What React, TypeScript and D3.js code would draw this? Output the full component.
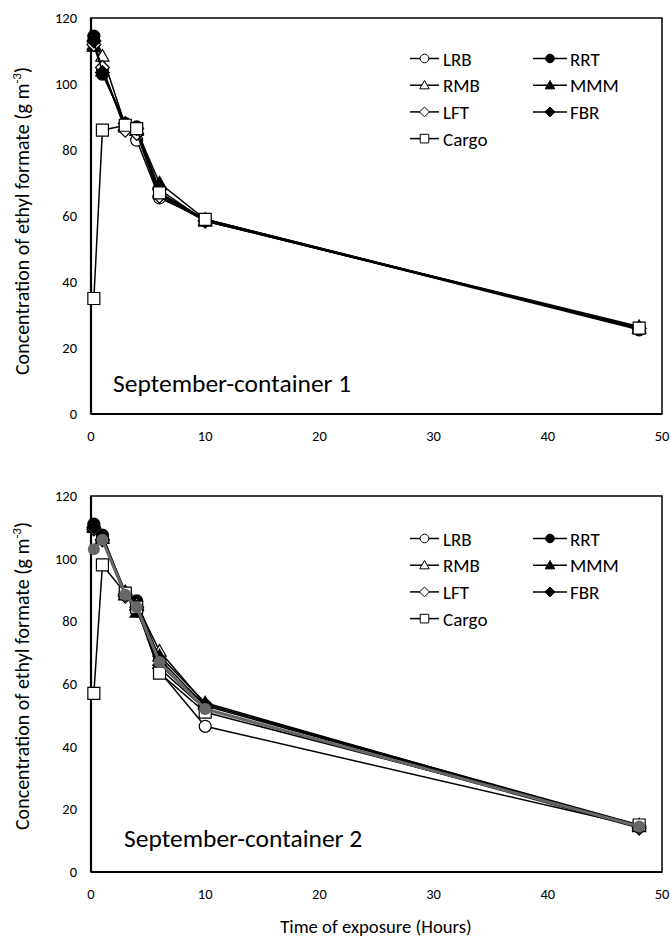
import { useEffect, useRef } from 'react'
import * as d3 from 'd3'

const hours = [0.25, 1, 3, 4, 6, 10, 48]

const seriesNames = ['LRB', 'RRT', 'RMB', 'MMM', 'LFT', 'FBR', 'Cargo']

// container 1
const c1LRB = [113, 104.5, 87, 83, 65.5, 59, 26]
const c1RRT = [114.5, 103, 88, 87, 66.5, 58.8, 25.5]
const c1RMB = [112, 108.5, 87.5, 86, 67, 58.5, 26.5]
const c1MMM = [111.5, 104, 87, 86, 70, 59, 26]
const c1LFT = [112, 105, 86, 85, 66, 58.5, 26]
const c1FBR = [113, 103.5, 88, 86.5, 68, 58.5, 26]
const c1Cargo = [35, 86, 87.5, 86.5, 67, 59, 26]

// container 2
const c2LRB = [110, 106.5, 88.5, 85, 64, 46.5, 14.5]
const c2RRT = [111, 107.5, 89, 86.5, 68, 53, 14.5]
const c2RMB = [110.5, 107, 89.5, 85.5, 70.5, 53.5, 15]
const c2MMM = [110, 106.5, 88.5, 83, 69, 54, 14.5]
const c2LFT = [109.5, 106, 88, 84.5, 65, 52, 14]
const c2FBR = [110, 106, 88.5, 83.5, 66, 53.5, 14.5]
const c2Cargo = [57, 98, 89, 84.5, 63.5, 51, 15]
// grey line drawn in panel 2, not in the legend
const c2Grey = [103, 106, 88.5, 84.5, 67, 52, 14.5]

const yTicks = [0, 20, 40, 60, 80, 100, 120]
const xTicks = [0, 10, 20, 30, 40, 50]

const shapes = ['circle', 'circle', 'triangle', 'triangle', 'diamond', 'diamond', 'square']
const filled = [false, true, false, true, false, true, false]

const FONT = 'Carlito, Lato, sans-serif'

const markerPath = (shape, s) => {
  if (shape === 'circle') {
    return `M${-s},0A${s},${s} 0 1,0 ${s},0A${s},${s} 0 1,0 ${-s},0Z`
  }
  if (shape === 'square') return `M${-s},${-s}H${s}V${s}H${-s}Z`
  if (shape === 'diamond') return `M0,${-s * 1.15}L${s * 1.15},0L0,${s * 1.15}L${-s * 1.15},0Z`
  return `M0,${-s * 1.1}L${s * 1.1},${s * 0.85}L${-s * 1.1},${s * 0.85}Z`
}

const drawPanel = (svg, opts) => {
  const { top, bottom, data, label, labelX, labelY, titleY, legendTop, legendX, extra } = opts
  const x = d3.scaleLinear().domain([0, 50]).range([91, 662])
  const y = d3.scaleLinear().domain([0, 120]).range([bottom, top])
  const g = svg.append('g')

  // frame
  g.append('rect')
    .attr('x', x(0))
    .attr('y', y(120))
    .attr('width', x(50) - x(0))
    .attr('height', y(0) - y(120))
    .attr('fill', 'none')
    .attr('stroke', '#000')
    .attr('stroke-width', 1.5)
  g.append('line')
    .attr('x1', x(0)).attr('x2', x(0))
    .attr('y1', y(120)).attr('y2', y(0))
    .attr('stroke', '#000').attr('stroke-width', 2.2)
  g.append('line')
    .attr('x1', x(0)).attr('x2', x(50))
    .attr('y1', y(0)).attr('y2', y(0))
    .attr('stroke', '#000').attr('stroke-width', 2.2)

  g.selectAll('.yt')
    .data(yTicks)
    .enter()
    .append('text')
    .attr('x', 77)
    .attr('y', (d) => y(d) + 5)
    .attr('text-anchor', 'end')
    .attr('font-family', FONT)
    .attr('font-size', 14.5)
    .text((d) => d)

  g.selectAll('.xt')
    .data(xTicks)
    .enter()
    .append('text')
    .attr('x', (d) => x(d))
    .attr('y', y(0) + 27)
    .attr('text-anchor', 'middle')
    .attr('font-family', FONT)
    .attr('font-size', 14.5)
    .text((d) => d)

  const yt = g.append('text')
    .attr('transform', `translate(29,${titleY}) rotate(-90)`)
    .attr('text-anchor', 'middle')
    .attr('font-family', FONT)
    .attr('font-size', 20)
  yt.append('tspan').text('Concentration of ethyl formate (g m')
  yt.append('tspan').attr('font-size', 13).attr('dy', -8).text('-3')
  yt.append('tspan').attr('dy', 8).text(')')

  g.append('text')
    .attr('x', labelX)
    .attr('y', labelY)
    .attr('font-family', FONT)
    .attr('font-size', 25.5)
    .text(label)

  const line = d3.line().x((d, i) => x(hours[i])).y((d) => y(d))

  data.forEach((vals, k) => {
    g.append('path')
      .attr('d', line(vals))
      .attr('fill', 'none')
      .attr('stroke', '#000')
      .attr('stroke-width', 1.5)
    g.selectAll(null)
      .data(vals)
      .enter()
      .append('path')
      .attr('transform', (d, i) => `translate(${x(hours[i])},${y(d)})`)
      .attr('d', markerPath(shapes[k], 6))
      .attr('fill', filled[k] ? '#000' : '#fff')
      .attr('stroke', '#000')
      .attr('stroke-width', 1.2)
  })

  if (extra) {
    g.append('path')
      .attr('d', line(extra))
      .attr('fill', 'none')
      .attr('stroke', '#666')
      .attr('stroke-width', 3)
    g.selectAll(null)
      .data(extra)
      .enter()
      .append('circle')
      .attr('cx', (d, i) => x(hours[i]))
      .attr('cy', (d) => y(d))
      .attr('r', 6)
      .attr('fill', '#666')
  }

  // legend
  seriesNames.forEach((name, k) => {
    const col = k % 2
    const row = Math.floor(k / 2)
    const lx = legendX[col]
    const ly = legendTop + row * 26.7
    const lg = g.append('g').attr('transform', `translate(${lx},${ly})`)
    lg.append('line')
      .attr('x1', 0).attr('x2', col ? 34 : 29)
      .attr('y1', 0).attr('y2', 0)
      .attr('stroke', '#000').attr('stroke-width', 1.5)
    lg.append('path')
      .attr('transform', `translate(${col ? 17 : 14.5},0)`)
      .attr('d', markerPath(shapes[k], 4.3))
      .attr('fill', filled[k] ? '#000' : '#fff')
      .attr('stroke', '#000')
      .attr('stroke-width', 1)
    lg.append('text')
      .attr('x', col ? 37 : 33)
      .attr('y', 7)
      .attr('font-family', FONT)
      .attr('font-size', 19)
      .text(name)
  })
}

const App = () => {
  const ref = useRef(null)

  useEffect(() => {
    const svg = d3.select(ref.current)
    svg.selectAll('*').remove()

    drawPanel(svg, {
      top: 18,
      bottom: 414,
      data: [c1LRB, c1RRT, c1RMB, c1MMM, c1LFT, c1FBR, c1Cargo],
      label: 'September-container 1',
      labelX: 113,
      labelY: 392,
      titleY: 221,
      legendTop: 58.5,
      legendX: [410, 533],
    })
    drawPanel(svg, {
      top: 496,
      bottom: 872,
      data: [c2LRB, c2RRT, c2RMB, c2MMM, c2LFT, c2FBR, c2Cargo],
      extra: c2Grey,
      label: 'September-container 2',
      labelX: 124,
      labelY: 847,
      titleY: 676,
      legendTop: 538.5,
      legendX: [410, 533],
    })

    svg.append('text')
      .attr('x', 376)
      .attr('y', 933)
      .attr('text-anchor', 'middle')
      .attr('font-family', FONT)
      .attr('font-size', 18.7)
      .text('Time of exposure (Hours)')
  }, [])

  return (
    <svg
      ref={ref}
      width={671}
      height={939}
      style={{ position: 'absolute', left: 0, top: 0, background: '#fff' }}
    />
  )
}

export default App
